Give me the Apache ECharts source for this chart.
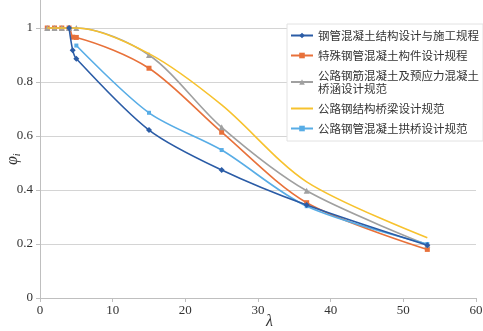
<!DOCTYPE html>
<html><head><meta charset="utf-8">
<script src="https://cdn.jsdelivr.net/npm/echarts@6/dist/echarts.min.js"></script>
<style>html,body{margin:0;padding:0;background:#fff}#c{width:483px;height:331px}</style>
</head><body><div id="c"></div>
<script>
const seriesNames = ['钢管混凝土结构设计与施工规程','特殊钢管混凝土构件设计规程','公路钢筋混凝土及预应力混凝土桥涵设计规范','公路钢结构桥梁设计规范','公路钢管混凝土拱桥设计规范'];
const lambda1 = [4, 4.5, 5, 15, 25, 36.7, 53.3];
const phi1    = [1, 0.918, 0.886, 0.622, 0.474, 0.344, 0.195];
const lambda2 = [1, 2, 3, 4, 4.5, 5, 15, 25, 36.7, 53.3];
const phi2    = [1, 1, 1, 1, 0.966, 0.965, 0.851, 0.614, 0.353, 0.18];
const lambda3 = [1, 2, 3, 4, 5, 15, 25, 36.7, 53.3];
const phi3    = [1, 1, 1, 1, 1, 0.9, 0.632, 0.397, 0.197];
const lambda4 = [1, 2, 3, 4, 5, 15, 25, 36.7, 53.3];
const phi4    = [1, 1, 1, 1, 1, 0.905, 0.715, 0.43, 0.223];
const lambda5 = [5, 15, 25, 36.7, 53.3];
const phi5    = [0.935, 0.686, 0.548, 0.34, 0.2];
const xTicks = [0, 10, 20, 30, 40, 50, 60];
const yTicks = [0, 0.2, 0.4, 0.6, 0.8, 1];
const xTitle = 'λ';
const yTitle = ['φ', 'i'];

const colors = ['#2b5ca6','#e8713a','#a0a0a0','#f7c22e','#58ade6'];
const symbols = ['diamond','rect','triangle','none','rect'];
const sizes = [6,5,6,0,4];
const xs = [lambda1, lambda2, lambda3, lambda4, lambda5];
const ys = [phi1, phi2, phi3, phi4, phi5];

const chart = echarts.init(document.getElementById('c'));
const serif = '"Liberation Serif","DejaVu Serif",serif';
chart.setOption({
  animation: false,
  grid: {left: 40, right: 7, top: -26, bottom: 33, containLabel: false, outerBoundsMode: 'none'},
  graphic: [
    {type: 'text', left: 266, top: 314, style: {text: xTitle, font: 'italic 16px ' + serif, fill: '#333'}},
    {type: 'text', x: 4, y: 165, rotation: Math.PI / 2,
      style: {text: '{a|' + yTitle[0] + '}{b|' + yTitle[1] + '}', fill: '#333',
        rich: {a: {fontFamily: serif, fontStyle: 'italic', fontSize: 16, fill: '#333'},
               b: {fontFamily: serif, fontStyle: 'italic', fontSize: 10, fill: '#333', padding: [8,0,0,0]}}}}
  ],
  legend: {
    orient: 'vertical', left: 287, top: 24, right: 0,
    itemWidth: 22, itemHeight: 7, itemGap: 7,
    backgroundColor: '#fff', borderColor: '#e2e2e2', borderWidth: 1,
    padding: [5, 4, 6, 3],
    textStyle: {fontFamily: '"Noto Sans CJK SC"', fontSize: 11.5, color: '#333', lineHeight: 13},
    formatter: n => n === seriesNames[2] ? '公路钢筋混凝土及预应力混凝土\n桥涵设计规范' : n,
    data: seriesNames.map((n, i) => symbols[i] === 'none' ? {name: n, itemStyle: {opacity: 0}} : {name: n})
  },
  xAxis: {
    type: 'value', min: 0, max: 60, interval: 10,
    axisLine: {show: true, lineStyle: {color: '#bfbfbf'}},
    axisTick: {show: true, length: 4, lineStyle: {color: '#bfbfbf'}},
    axisLabel: {fontFamily: serif, fontSize: 13, color: '#333', margin: 6},
    splitLine: {show: false}
  },
  yAxis: {
    type: 'value', min: 0, max: 1.2, interval: 0.2,
    axisLine: {show: true, lineStyle: {color: '#bfbfbf'}},
    axisTick: {show: true, length: 4, lineStyle: {color: '#bfbfbf'}},
    axisLabel: {fontFamily: serif, fontSize: 13, color: '#333', margin: 7,
      formatter: v => yTicks.some(t => Math.abs(t - v) < 1e-6) ? String(+v.toFixed(1)) : ''},
    splitLine: {show: true, lineStyle: {color: '#d4d4d4'}}
  },
  series: seriesNames.map((n, i) => ({
    name: n, type: 'line', smooth: 0.3,
    data: xs[i].map((x, j) => [x, ys[i][j]]),
    symbol: symbols[i], symbolSize: sizes[i], showSymbol: symbols[i] !== 'none',
    lineStyle: {width: 1.6, color: colors[i]},
    itemStyle: {color: colors[i]},
    z: [5, 2, 3, 4, 4][i]
  }))
});
</script></body></html>
